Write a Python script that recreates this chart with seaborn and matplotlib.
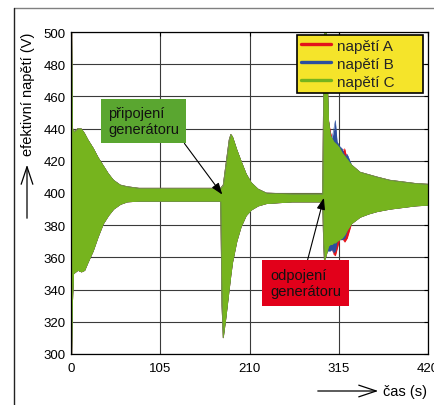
import matplotlib
matplotlib.use("Agg")
import numpy as np
import pandas as pd
import seaborn as sns
import matplotlib.pyplot as plt
from matplotlib.lines import Line2D
from matplotlib.patches import FancyArrowPatch

# ---------------- data (envelope of the RMS-voltage oscillation) ----------------
time_s = [0, 0.8, 1.5, 3, 8, 12, 16, 20, 26, 32, 38, 44, 50, 58, 66, 80, 120, 176,
          177.5, 179, 182, 186, 188, 190, 195, 200, 206, 212, 220, 230, 260, 296,
          297, 298, 300, 301.5, 303, 305, 307, 309, 311, 313, 316, 319, 322, 325,
          330, 340, 350, 360, 375, 390, 405, 420]

upper_c = [500, 500, 441, 438, 440, 440, 437, 433, 428, 422, 417, 412, 408, 405, 404,
           403, 403, 403, 404, 405, 417, 433, 436.5, 435, 427, 420, 412, 406.5, 402.5,
           400, 399.5, 399.5, 460, 500,
           500, 470, 445, 436, 434, 432, 431, 430, 428, 425, 423, 421, 417.5, 413,
           411.5, 410, 408, 407, 406, 405.5]
lower_c = [300, 300, 330, 350, 352, 351, 352, 357, 364, 373, 381, 386, 390, 393, 394.5,
           395, 395, 395, 330, 310, 322, 340, 349, 357, 370, 379, 386, 389.5, 392,
           393.5, 394.5, 394.5, 370, 358,
           361, 364, 367, 368, 368, 369, 369, 370, 371, 372, 374, 377, 381, 385,
           387, 388.5, 390, 391, 392, 392.5]

upper_a = [500, 500, 441, 438, 440, 440, 437, 433, 428, 422, 417, 412, 408, 405, 404,
           403, 403, 403, 404, 405, 417, 433, 436.5, 435, 427, 420, 412, 406.5, 402.5,
           400, 399.5, 399.5, 460, 500,
           500, 470, 445, 438.5, 434, 432, 431, 430, 428, 426, 427.5, 421, 417.5, 413,
           411.5, 410, 408, 407, 406, 405.5]
lower_a = [300, 300, 330, 350, 352, 351, 352, 357, 364, 373, 381, 386, 390, 393, 394.5,
           395, 395, 395, 330, 310, 322, 340, 349, 357, 370, 379, 386, 389.5, 392,
           393.5, 394.5, 394.5, 370, 358,
           361, 364, 367, 368, 366, 362, 361, 365, 371, 372, 369.5, 372, 381, 385,
           387, 388.5, 390, 391, 392, 392.5]

upper_b = [500, 500, 441, 438, 440, 440, 437, 433, 428, 422, 417, 412, 408, 405, 404,
           403, 403, 403, 404, 405, 417, 433, 436.5, 435, 427, 420, 412, 406.5, 402.5,
           400, 399.5, 399.5, 460, 500,
           500, 470, 445, 436, 434, 439, 445, 432, 429, 427.5, 423, 424, 417.5, 413,
           411.5, 410, 408, 407, 406, 405.5]
lower_b = [300, 300, 330, 350, 352, 351, 352, 357, 364, 373, 381, 386, 390, 393, 394.5,
           395, 395, 395, 330, 310, 322, 340, 349, 357, 370, 379, 386, 389.5, 392,
           393.5, 394.5, 394.5, 370, 358,
           361, 364, 364, 364, 365, 363, 364, 370, 371, 371, 372, 377, 381, 385,
           387, 388.5, 390, 391, 392, 392.5]

phase_labels = ["napětí A", "napětí B", "napětí C"]
phase_colors = ["#e3141b", "#2c4f9f", "#76b41e"]
x_ticks = [0, 105, 210, 315, 420]
y_ticks = [300, 320, 340, 360, 380, 400, 420, 440, 460, 480, 500]
note_connect = "připojení\ngenerátoru"
note_disconnect = "odpojení\ngenerátoru"
x_label = "čas (s)"
y_label = "efektivní napětí (V)"

# ---------------- long-form table ----------------
envelopes = {
    "napětí A": (upper_a, lower_a),
    "napětí B": (upper_b, lower_b),
    "napětí C": (upper_c, lower_c),
}
rows = []
for ph, (up, lo) in envelopes.items():
    for t, u, l in zip(time_s, up, lo):
        rows.append((t, u, ph, "upper"))
        rows.append((t, l, ph, "lower"))
df = pd.DataFrame(rows, columns=["time", "voltage", "phase", "bound"])

# ---------------- styling ----------------
sns.set_theme(style="white")
plt.rcParams["font.family"] = ["Liberation Sans", "DejaVu Sans"]

W, H = 435.0, 406.0
fig = plt.figure(figsize=(4.35, 4.06), dpi=100)
ax = fig.add_axes([71 / W, 1 - 355 / H, (428 - 71) / W, (355 - 33) / H])

for ph, col in zip(phase_labels, phase_colors):
    sub = df[df["phase"] == ph]
    sns.lineplot(data=sub, x="time", y="voltage", units="bound", estimator=None,
                 sort=False, color=col, lw=0.4, ax=ax, zorder=2, legend=False)
    wide = sub.pivot(index="time", columns="bound", values="voltage")
    ax.fill_between(wide.index, wide["lower"], wide["upper"], color=col, lw=0, zorder=2)

ax.set_xlim(0, 420)
ax.set_ylim(300, 500)
ax.set_xticks(x_ticks)
ax.set_yticks(y_ticks)
ax.set_xlabel("")
ax.set_ylabel("")
ax.grid(True, color="#3a3a3a", lw=0.8)
ax.set_axisbelow(True)
for s in ax.spines.values():
    s.set_visible(True)
    s.set_color("black")
    s.set_linewidth(0.9)
ax.tick_params(direction="in", top=True, right=True, length=3, width=0.8,
               labelsize=9.5, colors="black", pad=4)
ax.tick_params(axis="x", pad=6)

# legend (fixed-size box like the reference)
handles = [Line2D([0], [0], color=c, lw=2.4) for c in phase_colors]
x0 = (297 - 71) / 357
x1 = (423 - 71) / 357
y1 = (355 - 36) / 322
y0 = (355 - 93) / 322
leg = ax.legend(handles, phase_labels, loc="upper left",
                bbox_to_anchor=(x0, y0, x1 - x0, y1 - y0), mode="expand",
                borderaxespad=0, fontsize=11, frameon=True, fancybox=False,
                framealpha=1, facecolor="#f5e42a", edgecolor="black",
                handlelength=1.95, handletextpad=0.45, labelspacing=0.26, borderpad=0.25)
leg.get_frame().set_linewidth(1.2)
leg.set_zorder(10)

# annotations
ax.annotate(note_connect, xy=(178, 399), xycoords="data",
            xytext=(143.5, 284), textcoords="figure pixels",
            ha="center", va="center", multialignment="left", fontsize=10.5, color="#111111",
            bbox=dict(boxstyle="square,pad=0.5", fc="#5aa630", ec="none"),
            arrowprops=dict(arrowstyle="-|>,head_length=0.5,head_width=0.18", color="black",
                            lw=0.8, relpos=(1, 0), shrinkA=0, shrinkB=0, mutation_scale=14),
            zorder=11)
ax.annotate(note_disconnect, xy=(297.5, 397), xycoords="data",
            xytext=(305.5, 122), textcoords="figure pixels",
            ha="center", va="center", multialignment="left", fontsize=10.5, color="#111111",
            bbox=dict(boxstyle="square,pad=0.55", fc="#e2001a", ec="none"),
            arrowprops=dict(arrowstyle="-|>,head_length=0.5,head_width=0.18", color="black",
                            lw=0.8, relpos=(0.5, 1), shrinkA=0, shrinkB=0, mutation_scale=14),
            zorder=11)

# axis labels with arrows (figure level)
fig.text(28 / W, 1 - 94 / H, y_label, rotation=90, ha="center", va="center",
         fontsize=10.5, color="black")
fig.add_artist(FancyArrowPatch((27 / W, 1 - 222 / H), (27 / W, 1 - 163 / H),
                               transform=fig.transFigure,
                               arrowstyle="->,head_length=0.9,head_width=0.3",
                               mutation_scale=14, lw=0.9, color="black"))
fig.text(383 / W, 1 - 392 / H, x_label, ha="left", va="center", fontsize=10.5, color="black")
fig.add_artist(FancyArrowPatch((315 / W, 1 - 392 / H), (381 / W, 1 - 392 / H),
                               transform=fig.transFigure,
                               arrowstyle="->,head_length=0.9,head_width=0.3",
                               mutation_scale=14, lw=0.9, color="black"))

# outer frame lines
fig.add_artist(Line2D([14.5 / W, 1.0], [1 - 8.5 / H, 1 - 8.5 / H],
                      transform=fig.transFigure, color="#808080", lw=1.0))
fig.add_artist(Line2D([14.5 / W, 14.5 / W], [0.0, 1 - 8.5 / H],
                      transform=fig.transFigure, color="#222222", lw=1.0))

fig.savefig("out.png", dpi=100)
